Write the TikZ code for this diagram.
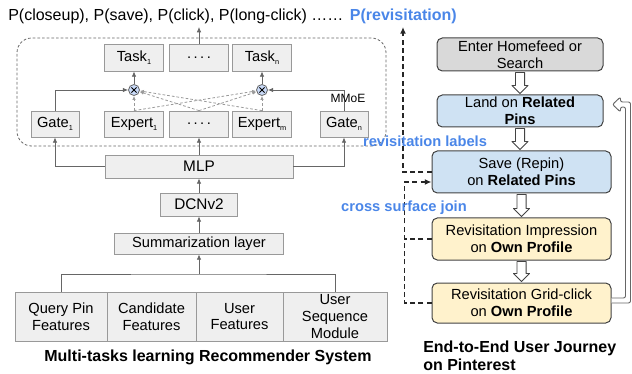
\documentclass[tikz,border=0pt]{standalone}
\usepackage{fontspec}
\setmainfont{Liberation Sans}
\usetikzlibrary{arrows.meta,calc}
\definecolor{boxfill}{HTML}{EFEFEF}
\definecolor{boxline}{HTML}{999999}
\definecolor{arrgray}{HTML}{666666}
\definecolor{dashgray}{HTML}{9A9A9A}
\definecolor{bluetxt}{HTML}{4A86E8}
\definecolor{greyfill}{HTML}{D9D9D9}
\definecolor{bluefill}{HTML}{CFE2F3}
\definecolor{yellowfill}{HTML}{FFF2CC}
\definecolor{darkline}{HTML}{434343}
\definecolor{circfill}{HTML}{C9DAF8}
\newcommand\mysub[1]{\raisebox{-2pt}{\fontsize{5.5}{6}\selectfont #1}}
\newcommand\blockarrow[2]{\draw[blockarr] let \p1=(#1.south), \p2=(#2.north) in
  (\x1-3.4pt,\y1-0.75pt) -- (\x1+3.4pt,\y1-0.75pt) -- (\x1+3.4pt,\y2+6.75pt) -- (\x1+6pt,\y2+6.75pt)
  -- (\x1,\y2+0.75pt) -- (\x1-6pt,\y2+6.75pt) -- (\x1-3.4pt,\y2+6.75pt) -- cycle;}
\begin{document}
\begin{tikzpicture}[x=0.75pt,y=-0.75pt,
  wh/.style 2 args={minimum width=#1*0.75pt, minimum height=#2*0.75pt},
  lbox/.style={draw=boxline, fill=boxfill, inner sep=0pt, line width=0.6pt,
    font=\fontsize{11}{12.5}\selectfont, align=center},
  rbox/.style={draw=darkline, inner sep=0pt, line width=0.75pt, rounded corners=4pt,
    font=\fontsize{11}{12.5}\selectfont, align=center},
  cross/.style={circle, draw=arrgray, fill=circfill, line width=0.6pt, minimum size=8.25pt, inner sep=0pt,
    path picture={\draw[line width=0.6pt,black]
      ([shift={(-1.9pt,-1.9pt)}]path picture bounding box.center) -- ([shift={(1.9pt,1.9pt)}]path picture bounding box.center)
      ([shift={(-1.9pt,1.9pt)}]path picture bounding box.center) -- ([shift={(1.9pt,-1.9pt)}]path picture bounding box.center);}},
  gline/.style={draw=arrgray, line width=0.6pt},
  garr/.style={gline, -{Latex[length=4pt,width=3.5pt]}},
  gdash/.style={draw=dashgray, line width=0.6pt, dash pattern=on 2pt off 1.5pt, -{Latex[length=3pt,width=2.6pt]}},
  rdash/.style={draw=black!85, line width=1.05pt, dash pattern=on 3.75pt off 2.4pt},
  rdarr/.style={rdash, -{Latex[length=5pt,width=4.5pt]}},
  blockarr/.style={draw=darkline, fill=white, line width=0.7pt, line join=round},
  loopst/.style={draw=arrgray, fill=white, line width=0.7pt, rounded corners=1.5pt, line join=round},
  bluelbl/.style={text=bluetxt, font=\fontsize{11}{12.5}\selectfont\bfseries, inner sep=0pt},
  capt/.style={font=\fontsize{12}{13.75}\selectfont\bfseries, inner sep=0pt}
]
\useasboundingbox (0,0) rectangle (632,374);

% ---------- top text ----------
\node[anchor=base west, inner sep=0pt, font=\fontsize{12}{14}\selectfont] (top) at (8,20.5)
  {P(closeup), P(save), P(click), P(long-click) ……};
\node[anchor=base west, inner sep=0pt, xshift=4.5pt, font=\fontsize{12}{14}\selectfont\bfseries, text=bluetxt] (prev) at (top.base east)
  {P(revisitation)};
\coordinate (tipline) at (199,27);
\coordinate (tip) at (403,27);

% ---------- MMoE block ----------
\node[draw=arrgray, line width=0.6pt, dash pattern=on 2pt off 1.5pt, rounded corners=11pt, wh={369}{108}] (mmoebox) at (201.5,92) {};
\node[lbox, wh={59}{27}] (task1) at (134,57.5) {Task\mysub{1}};
\node[lbox, wh={59}{27}] (taskd) at (199,57.5) {.\,.\,.\,.};
\node[lbox, wh={59}{27}] (taskn) at (262,57.5) {Task\mysub{n}};
\node[cross] (c1) at (134,90) {};
\node[cross] (c2) at (262,90) {};
\node[lbox, wh={48}{26}] (gate1) at (55,124) {Gate\mysub{1}};
\node[lbox, wh={59}{26}] (exp1) at (134,124) {Expert\mysub{1}};
\node[lbox, wh={59}{26}] (expd) at (199,124) {.\,.\,.\,.};
\node[lbox, wh={59}{26}] (expm) at (262,124) {Expert\mysub{m}};
\node[lbox, wh={48}{26}] (gaten) at (344,124) {Gate\mysub{n}};

\draw[garr] (gaten.north) |- (c2.east);
\node[font=\fontsize{9}{10}\selectfont, inner sep=0pt] (mmoe) at (348,98) {MMoE};

\draw[garr] (gate1.north) |- (c1.west);
\draw[garr] (c1.north) -- (task1.south);
\draw[garr] (c2.north) -- (taskn.south);
\draw[garr] (taskd.north) -- (taskd.north |- tipline);

\draw[gdash] (exp1.north) -- (c1.south);
\draw[gdash] (expm.north) -- (c2.south);
\draw[gdash] (exp1.north) -- (c2);
\draw[gdash] (expd.north) -- (c2);
\draw[gdash] (expd.north) -- (c1);
\draw[gdash] (expm.north) -- (c1);

% ---------- lower stack ----------
\node[lbox, wh={188}{23}, font=\fontsize{11.5}{12.5}\selectfont] (mlp) at (199,166.5) {MLP};
\node[lbox, wh={77}{23}, font=\fontsize{11.5}{12.5}\selectfont] (dcn) at (199,204.5) {DCNv2};
\node[lbox, wh={169}{21}] (summ) at (199,243.5) {Summarization layer};

\draw[garr] (mlp.north) -- (expd.south);
\draw[garr] (mlp.west) -| (gate1.south);
\draw[garr] (mlp.east) -| (gaten.south);
\draw[garr] (dcn.north) -- (mlp.south);
\draw[garr] (summ.north) -- (dcn.south);

\node[lbox, wh={92}{49}] (f1) at (61,316.5) {Query Pin\\Features};
\node[lbox, wh={89}{49}] (f2) at (151.5,316.5) {Candidate\\Features};
\node[lbox, wh={87}{49}] (f3) at (239.5,316.5) {User\\Features};
\node[lbox, wh={104}{49}] (f4) at (335,316.5) {User\\Sequence\\Module};

\coordinate (bus) at (199,274);
\draw[gline] (f1.north) |- (bus) -| (f4.north);
\draw[garr] (bus) -- (summ.south);

\node[capt, anchor=base] (cap1) at (208,361) {Multi-tasks learning Recommender System};

% ---------- right: user journey ----------
\node[rbox, fill=greyfill, wh={166}{33}] (enter) at (520,54.5) {Enter Homefeed or\\Search};
\node[rbox, fill=bluefill, wh={166}{32}] (land) at (520,111) {Land on \textbf{Related}\\\textbf{Pins}};
\node[rbox, fill=bluefill, wh={179}{42}] (save) at (521.5,172) {Save (Repin)\\on \textbf{Related Pins}};
\node[rbox, fill=yellowfill, wh={179}{42}] (revimp) at (521.5,239) {Revisitation Impression\\on \textbf{Own Profile}};
\node[rbox, fill=yellowfill, wh={179}{40}] (grid) at (521.5,303) {Revisitation Grid-click\\on \textbf{Own Profile}};

\blockarrow{enter}{land}
\blockarrow{land}{save}
\blockarrow{save}{revimp}
\blockarrow{revimp}{grid}

\draw[loopst] ($(grid.east)+(0,-5)$) -- ($(grid.east)+(14,-5)$) -- ($(land.east)+(22,-4)$)
  -- ($(land.east)+(17,-4)$) -- ($(land.east)+(17,1)$) -- ($(land.east)+(9,-6.5)$)
  -- ($(land.east)+(17,-14)$) -- ($(land.east)+(17,-9)$) -- ($(land.east)+(27,-9)$)
  -- ($(grid.east)+(19,0)$) -- (grid.east);

\coordinate (join) at (404.5,182);
\draw[rdarr] (save.west) -| (tip);
\draw[rdash] (revimp.west) -- (revimp.west -| join);
\draw[rdarr] (grid.west) -| (join) -- (join -| save.west);

\node[bluelbl] (lbl1) at (425,141) {revisitation labels};
\node[bluelbl] (lbl2) at (404,207.5) {cross surface join};

\node[capt, anchor=north west, align=left] (cap2) at (423,340.5) {End-to-End User Journey\\on Pinterest};
\end{tikzpicture}
\end{document}
